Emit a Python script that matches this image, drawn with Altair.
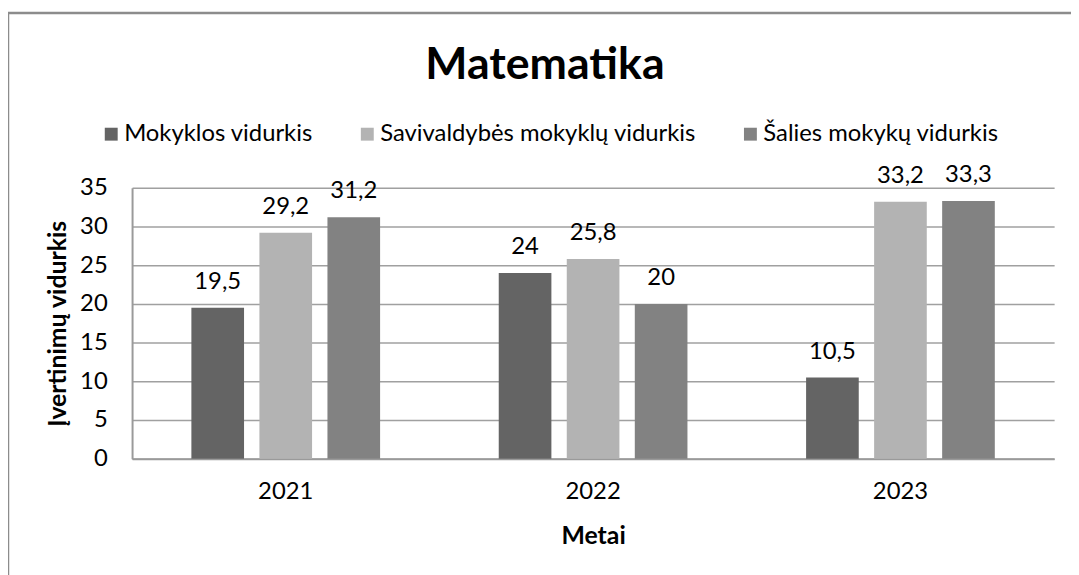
import altair as alt
import pandas as pd

years = ["2021", "2022", "2023"]
series = ["Mokyklos vidurkis", "Savivaldybės mokyklų vidurkis", "Šalies mokykų vidurkis"]
mokyklos = [19.5, 24.0, 10.5]
savivaldybes = [29.2, 25.8, 33.2]
salies = [31.2, 20.0, 33.3]
colors = ["#646464", "#b3b3b3", "#828282"]
chart_title = "Matematika"

rows = []
for i, y in enumerate(years):
    for s, vals in zip(series, [mokyklos, savivaldybes, salies]):
        v = vals[i]
        lbl = (f"{v:g}").replace(".", ",")
        rows.append({"Metai": y, "Serija": s, "Reikšmė": v, "Žyma": lbl})
df = pd.DataFrame(rows)

FONT = "Lato"
FS = 24

x_enc = alt.X("Metai:N", sort=years,
              scale=alt.Scale(paddingInner=0.386, paddingOuter=0.193),
              axis=alt.Axis(title="Metai", labelAngle=0, labelFontSize=FS, labelPadding=21,
                            titleFontSize=25, titleFontWeight="bold", titlePadding=20,
                            ticks=False, domainColor="#9a9a9a", domainWidth=2,
                            labelColor="#000000", titleColor="#000000"))
xo_enc = alt.XOffset("Serija:N", sort=series,
                     scale=alt.Scale(paddingInner=0.226, paddingOuter=0))
y_enc = alt.Y("Reikšmė:Q",
              scale=alt.Scale(domain=[0, 35], nice=False),
              axis=alt.Axis(title="Įvertinimų vidurkis", values=list(range(0, 36, 5)),
                            labelOverlap=False, tickCount=8,
                            labelFontSize=FS, labelPadding=25, ticks=False,
                            titleFontSize=25, titleFontWeight="bold", titlePadding=9,
                            domainColor="#9a9a9a", domainWidth=2,
                            gridColor="#a0a0a0", gridWidth=1.5,
                            labelColor="#000000", titleColor="#000000"))

bars = alt.Chart(df).mark_bar().encode(
    x=x_enc, xOffset=xo_enc, y=y_enc,
    color=alt.Color("Serija:N", sort=series,
                    scale=alt.Scale(domain=series, range=colors),
                    legend=alt.Legend(title=None, orient="none", direction="horizontal",
                                      legendX=-33, legendY=-66, symbolType="square",
                                      symbolSize=169, symbolStrokeWidth=0,
                                      labelFontSize=FS, labelLimit=0, labelOffset=1,
                                      columnPadding=42, labelColor="#000000"))
)

labels = alt.Chart(df).mark_text(fontSize=FS, dy=-19, baseline="alphabetic",
                                 color="#000000", font=FONT).encode(
    x=x_enc, xOffset=xo_enc, y=y_enc, text="Žyma:N"
)

border = alt.Chart(pd.DataFrame({"a": [0]})).mark_rect(
    fill=None, stroke="#8c8c8c", strokeWidth=2.5).encode(
    x=alt.value(-125), x2=alt.value(1000), y=alt.value(-176), y2=alt.value(450)
)

title = alt.Chart(pd.DataFrame({"t": [chart_title]})).mark_text(
    fontSize=45, fontWeight="bold", font=FONT, color="#000000",
    align="center", baseline="alphabetic").encode(
    text="t:N", x=alt.value(416), y=alt.value(-110)
)

chart = alt.layer(border, bars, labels, title).properties(
    width=929, height=273,
    autosize=alt.AutoSizeParams(type="none"),
    padding={"left": 125, "top": 179, "right": 17, "bottom": 115},
).configure(font=FONT).configure_view(stroke=None).configure_axis(
    labelFont=FONT, titleFont=FONT
).configure_legend(labelFont=FONT)

chart.save("out.html", embed_options={"renderer": "svg", "actions": False})
